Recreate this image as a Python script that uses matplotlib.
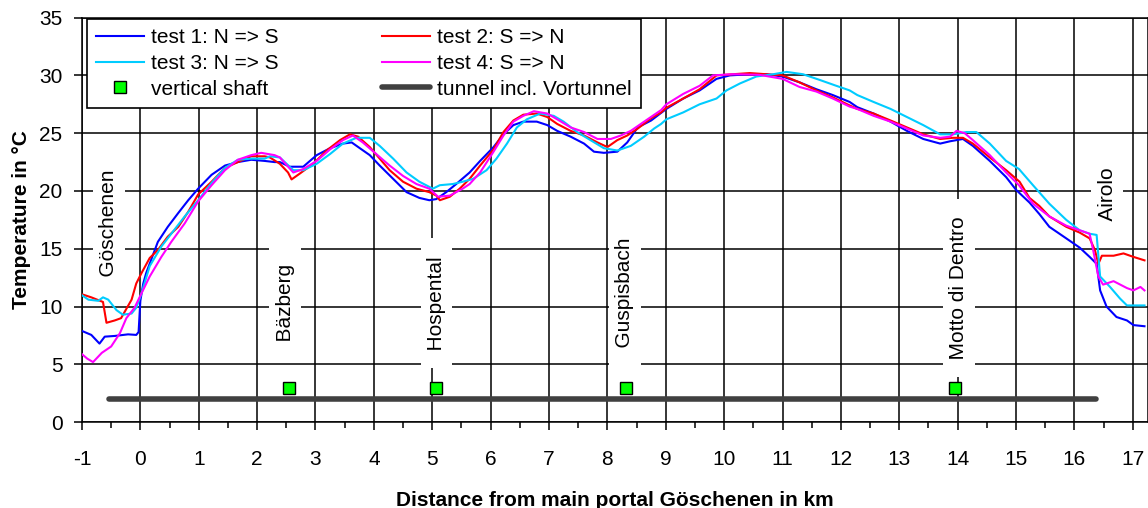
import matplotlib
matplotlib.use("Agg")
import matplotlib.pyplot as plt
from matplotlib.ticker import MultipleLocator

plt.rcParams['font.family'] = ['Liberation Sans', 'DejaVu Sans']
plt.rcParams['axes.unicode_minus'] = False

# test 1: N => S
t1_km = [-1.05, -0.84, -0.70, -0.61, -0.44, -0.21, -0.07, -0.03, 0.0, 0.05, 0.10, 0.30, 0.47, 0.65,
         0.82, 0.99, 1.22, 1.45, 1.67, 1.90, 2.13, 2.30, 2.39, 2.56, 2.79, 3.02, 3.25, 3.47, 3.62,
         3.76, 3.93, 4.10, 4.33, 4.56, 4.78, 4.95, 5.07, 5.24, 5.41, 5.64, 5.82, 6.05, 6.22, 6.39,
         6.56, 6.79, 6.97, 7.14, 7.37, 7.60, 7.77, 7.94, 8.17, 8.34, 8.52, 8.75, 9.01, 9.30, 9.58,
         9.87, 10.10, 10.44, 10.72, 11.00, 11.29, 11.58, 11.86, 12.15, 12.28, 12.56, 12.85, 13.13,
         13.41, 13.70, 13.87, 14.09, 14.26, 14.55, 14.83, 15.00, 15.23, 15.40, 15.57, 15.86, 16.09,
         16.26, 16.38, 16.44, 16.55, 16.72, 16.90, 17.01, 17.20]
t1_temp = [8.0, 7.55, 6.8, 7.4, 7.46, 7.6, 7.55, 7.8, 10.5, 12.0, 12.9, 15.6, 16.9, 18.1,
           19.2, 20.2, 21.4, 22.2, 22.5, 22.7, 22.6, 22.5, 22.5, 22.1, 22.1, 23.1, 23.7, 24.1, 24.2,
           23.7, 23.1, 22.2, 21.05, 19.9, 19.4, 19.2, 19.3, 19.9, 20.6, 21.6, 22.6, 23.8, 24.9, 25.7,
           26.0, 26.0, 25.7, 25.2, 24.7, 24.1, 23.4, 23.3, 23.4, 24.2, 25.5, 26.1, 27.1, 28.0, 28.7,
           29.7, 30.0, 30.1, 30.1, 29.9, 29.4, 28.8, 28.3, 27.7, 27.25, 26.7, 26.0, 25.2,
           24.5, 24.1, 24.3, 24.5, 23.9, 22.6, 21.2, 20.1, 19.0, 18.0, 16.9, 15.9, 15.1,
           14.3, 13.7, 11.4, 10.0, 9.1, 8.8, 8.4, 8.3]

# test 2: S => N
t2_km = [-1.05, -0.84, -0.64, -0.58, -0.44, -0.33, -0.15, -0.07, 0.02, 0.16, 0.30, 0.47, 0.65,
         0.82, 0.99, 1.22, 1.45, 1.67, 1.90, 2.13, 2.22, 2.39, 2.53, 2.59, 2.73, 2.96, 3.19, 3.42,
         3.59, 3.73, 3.93, 4.10, 4.27, 4.50, 4.73, 4.95, 5.07, 5.13, 5.30, 5.47, 5.64, 5.82, 6.05,
         6.22, 6.39, 6.56, 6.79, 6.97, 7.14, 7.37, 7.60, 7.83, 8.00, 8.17, 8.34, 8.52, 8.75, 8.92,
         9.01, 9.30, 9.58, 9.87, 10.15, 10.44, 10.72, 11.00, 11.29, 11.58, 11.86, 12.15, 12.28,
         12.56, 12.85, 13.13, 13.41, 13.70, 13.92, 14.09, 14.26, 14.55, 14.83, 15.06, 15.23, 15.40,
         15.57, 15.86, 16.09, 16.26, 16.35, 16.41, 16.47, 16.67, 16.84, 17.01, 17.20]
t2_temp = [11.15, 10.8, 10.4, 8.6, 8.8, 9.0, 10.6, 12.0, 12.9, 14.2, 14.9, 16.05, 16.9,
           18.2, 19.7, 20.8, 22.0, 22.5, 23.0, 23.0, 22.9, 22.35, 21.6, 21.0, 21.5, 22.35, 23.5, 24.4,
           24.9, 24.7, 23.8, 22.8, 21.8, 20.8, 20.2, 19.9, 19.6, 19.2, 19.5, 20.2, 21.05, 22.2, 23.6,
           25.1, 26.1, 26.6, 26.7, 26.4, 25.8, 25.2, 24.8, 24.2, 23.8, 24.4, 24.8, 25.4, 26.3, 26.8,
           27.2, 28.0, 28.8, 30.0, 30.1, 30.2, 30.1, 30.0, 29.4, 28.7, 28.1, 27.4, 27.1,
           26.7, 26.1, 25.5, 24.9, 24.5, 24.6, 24.6, 24.1, 22.9, 21.8, 20.8, 19.4, 18.7,
           17.8, 16.9, 16.4, 15.9, 14.9, 13.7, 14.4, 14.4, 14.6, 14.3, 14.0]

# test 3: N => S
t3_km = [-1.05, -0.89, -0.72, -0.64, -0.55, -0.41, -0.30, -0.15, -0.07, 0.02, 0.16, 0.36, 0.53,
         0.76, 0.99, 1.22, 1.45, 1.67, 1.90, 2.13, 2.22, 2.39, 2.62, 2.79, 3.02, 3.25, 3.47, 3.70,
         3.93, 4.10, 4.33, 4.56, 4.78, 5.01, 5.13, 5.35, 5.52, 5.70, 5.93, 6.10, 6.28, 6.45, 6.62,
         6.85, 7.08, 7.25, 7.48, 7.71, 7.94, 8.17, 8.40, 8.63, 8.80, 8.92, 9.01, 9.30, 9.58, 9.87,
         10.04, 10.27, 10.55, 10.84, 11.07, 11.35, 11.64, 11.92, 12.15, 12.28, 12.56, 12.85, 13.13,
         13.41, 13.70, 13.92, 14.15, 14.32, 14.55, 14.83, 15.05, 15.29, 15.57, 15.86, 16.09, 16.26,
         16.38, 16.44, 16.61, 16.78, 16.90, 17.20]
t3_temp = [11.15, 10.6, 10.5, 10.8, 10.6, 9.7, 9.3, 9.4, 9.9, 11.15, 13.5, 15.2, 16.3,
           17.8, 19.2, 20.7, 22.0, 22.7, 22.8, 22.8, 23.0, 22.9, 21.8, 21.8, 22.35, 23.2, 24.1, 24.6,
           24.6, 23.9, 22.8, 21.6, 20.8, 20.2, 20.5, 20.6, 20.8, 21.05, 21.8, 22.8, 24.1, 25.5, 26.2,
           26.7, 26.5, 26.0, 25.1, 24.4, 23.7, 23.5, 23.9, 24.7, 25.4, 25.8, 26.2, 26.8, 27.5, 28.0,
           28.7, 29.3, 29.9, 30.1, 30.3, 30.1, 29.6, 29.1, 28.7, 28.3, 27.7, 27.1, 26.4,
           25.7, 24.9, 24.9, 25.1, 25.1, 24.1, 22.6, 21.9, 20.5, 18.9, 17.5, 16.6, 16.3,
           16.2, 12.6, 11.7, 10.7, 10.1, 10.1]

# test 4: S => N
t4_km = [-1.05, -0.91, -0.81, -0.66, -0.50, -0.35, -0.24, -0.10, 0.02, 0.16, 0.36, 0.53, 0.76,
         0.99, 1.22, 1.45, 1.67, 1.90, 2.07, 2.30, 2.39, 2.62, 2.79, 3.02, 3.25, 3.47, 3.64, 3.81,
         4.04, 4.27, 4.50, 4.73, 4.95, 5.10, 5.30, 5.52, 5.64, 5.82, 6.05, 6.22, 6.39, 6.56, 6.74,
         6.97, 7.14, 7.37, 7.60, 7.83, 8.06, 8.23, 8.40, 8.63, 8.92, 9.01, 9.30, 9.58, 9.81, 10.15,
         10.60, 11.00, 11.29, 11.58, 11.86, 12.15, 12.28, 12.56, 12.85, 13.13, 13.41, 13.70, 13.87,
         13.98, 14.12, 14.26, 14.55, 14.83, 15.05, 15.29, 15.57, 15.86, 16.09, 16.26, 16.32, 16.41,
         16.49, 16.67, 16.90, 17.01, 17.13, 17.20]
t4_temp = [6.1, 5.5, 5.2, 6.0, 6.55, 7.7, 9.0, 9.9, 11.15, 12.6, 14.3, 15.6, 17.2,
           19.1, 20.5, 21.8, 22.7, 23.1, 23.3, 23.1, 22.9, 21.6, 21.9, 22.6, 23.6, 24.4, 24.8, 24.2,
           23.2, 22.2, 21.3, 20.6, 20.2, 19.5, 19.6, 20.2, 20.6, 21.6, 23.4, 24.8, 26.0, 26.5, 26.9,
           26.7, 26.2, 25.5, 25.1, 24.5, 24.5, 24.8, 25.2, 26.0, 27.0, 27.5, 28.4, 29.1, 30.0, 30.1,
           30.05, 29.7, 29.0, 28.6, 28.0, 27.3, 27.1, 26.5, 26.0, 25.4, 24.8, 24.6, 24.7,
           25.2, 25.0, 24.4, 23.1, 21.6, 20.5, 18.9, 17.8, 17.0, 16.6, 16.3, 14.9, 12.6,
           11.9, 12.2, 11.6, 11.4, 11.7, 11.4]

# vertical shafts
shaft_km = [2.54, 5.07, 8.32, 13.95]
shaft_temp = [3, 3, 3, 3]

# tunnel incl. Vortunnel
tunnel_km = [-0.54, 16.37]
tunnel_temp = [2, 2]

# place names
places = ["Göschenen", "Bäzberg", "Hospental", "Guspisbach", "Motto di Dentro", "Airolo"]
place_km = [-0.54, 2.48, 5.07, 8.30, 14.02, 16.56]
place_temp = [17.2, 10.3, 10.3, 11.2, 11.6, 19.8]

fig = plt.figure(figsize=(11.48, 5.08), dpi=100)
ax = fig.add_axes([0.0714, 0.1689, 0.9286, 0.7965])

ax.plot(tunnel_km, tunnel_temp, color='#404040', lw=4, solid_capstyle='round', zorder=3,
        label='tunnel incl. Vortunnel')
ax.plot(t1_km, t1_temp, color='#0000ff', lw=1.5, zorder=4, label='test 1: N => S')
ax.plot(t2_km, t2_temp, color='#ff0000', lw=1.5, zorder=4, label='test 2: S => N')
ax.plot(t3_km, t3_temp, color='#00ccff', lw=1.5, zorder=4, label='test 3: N => S')
ax.plot(t4_km, t4_temp, color='#ff00ff', lw=1.5, zorder=4, label='test 4: S => N')
ax.plot(shaft_km, shaft_temp, ls='none', marker='s', ms=9, mfc='#00ff00', mec='black',
        mew=1, zorder=5, label='vertical shaft')

for name, xk, yt in zip(places, place_km, place_temp):
    ax.text(xk, yt, '  ' + name + '  ', rotation=90, ha='center', va='center', fontsize=15,
            zorder=2, bbox=dict(boxstyle='square,pad=0.3', fc='white', ec='none'))

ax.set_xlim(-1, 17.26)
ax.set_ylim(0, 35)
ax.xaxis.set_major_locator(MultipleLocator(1))
ax.xaxis.set_minor_locator(MultipleLocator(0.5))
ax.yaxis.set_major_locator(MultipleLocator(5))
ax.grid(True, which='major', color='black', lw=1.1)
ax.set_axisbelow(True)
ax.tick_params(axis='both', which='major', direction='out', length=6, width=1.1, labelsize=15)
ax.tick_params(axis='x', which='major', pad=14)
ax.tick_params(axis='x', which='minor', direction='out', length=4, width=1.1)
ax.tick_params(axis='y', which='major', pad=8)
for s in ax.spines.values():
    s.set_color('black')
    s.set_linewidth(1.1)

ax.set_xlabel('Distance from main portal Göschenen in km', fontsize=15, fontweight='bold',
              labelpad=16)
ax.set_ylabel('Temperature in °C', fontsize=15, fontweight='bold', labelpad=6)

h, l = ax.get_legend_handles_labels()
order = [1, 3, 5, 2, 4, 0]
leg = ax.legend([h[i] for i in order], [l[i] for i in order], ncol=2, fontsize=15,
                loc='upper left', bbox_to_anchor=(0.0758, 0.9626), bbox_transform=fig.transFigure,
                borderaxespad=0, frameon=True, fancybox=False, framealpha=1, edgecolor='black',
                handlelength=2.3, handletextpad=0.3, columnspacing=5.0, labelspacing=0.32,
                borderpad=0.45)
leg.get_frame().set_linewidth(1.2)
leg.set_zorder(10)

fig.savefig('out.png', dpi=100)
